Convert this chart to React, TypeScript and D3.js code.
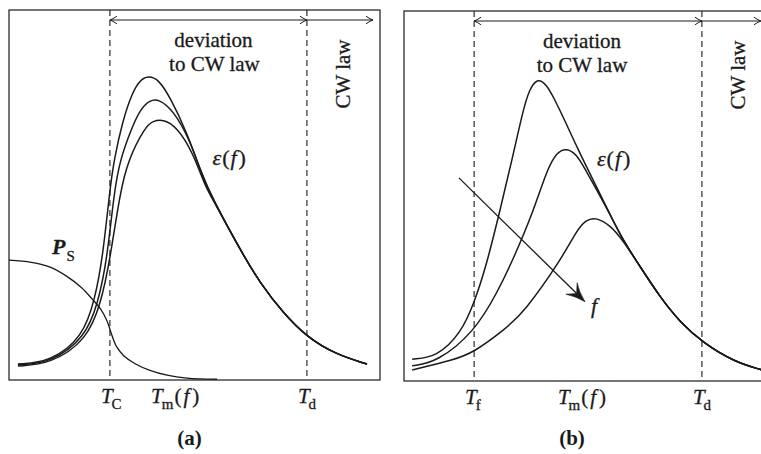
import * as d3 from 'd3'

// temperature axis in arbitrary units (0..100), permittivity in arbitrary units (0..1)
const LEFT_EPS_1 = [[2.4, 0.043], [11.1, 0.049], [19.9, 0.116], [23.2, 0.219], [25.3, 0.335], [27.2, 0.516], [28.3, 0.595], [30.7, 0.703], [33.2, 0.776], [35.3, 0.811], [37.5, 0.822], [40.2, 0.814], [43.4, 0.765], [48.0, 0.668], [51.5, 0.568]]
const LEFT_EPS_2 = [[2.4, 0.041], [11.1, 0.046], [20.5, 0.114], [24.0, 0.208], [26.4, 0.324], [28.3, 0.505], [29.9, 0.595], [33.2, 0.684], [35.3, 0.73], [38.0, 0.757], [40.4, 0.759], [44.2, 0.73], [48.8, 0.649], [52.3, 0.545]]
const LEFT_EPS_3 = [[2.4, 0.038], [11.1, 0.043], [21.0, 0.108], [24.8, 0.208], [27.2, 0.324], [29.9, 0.505], [32.1, 0.595], [36.7, 0.684], [38.8, 0.7], [41.5, 0.705], [45.3, 0.684], [49.6, 0.614], [52.8, 0.525]]
const LEFT_TAIL = [[55.0, 0.487], [62.8, 0.343], [67.7, 0.262], [73.9, 0.181], [80.3, 0.116], [87.9, 0.07], [96.5, 0.043]]
const LEFT_PS = [[0, 0.324], [6, 0.318], [11.1, 0.305], [15.6, 0.28], [19.5, 0.25], [22.5, 0.218], [24.8, 0.19], [26.4, 0.16], [27.6, 0.125], [29.0, 0.09], [31.0, 0.065], [34.0, 0.044], [38.0, 0.026], [42.6, 0.013], [48.0, 0.005], [56.1, 0.002]]

const RIGHT_EPS_1 = [[2.2, 0.059], [8.9, 0.065], [15.4, 0.13], [18.9, 0.211], [22.1, 0.308], [25.9, 0.462], [29.1, 0.597], [32.1, 0.732], [33.7, 0.786], [35.9, 0.819], [38.3, 0.803], [40.4, 0.765], [42.9, 0.714], [46.6, 0.632], [52.0, 0.522]]
const RIGHT_EPS_2 = [[2.2, 0.041], [8.9, 0.051], [18.9, 0.132], [25.1, 0.238], [29.7, 0.335], [35.0, 0.462], [38.5, 0.57], [41.2, 0.619], [43.9, 0.63], [46.6, 0.611], [48.5, 0.578], [52.0, 0.516]]
const RIGHT_EPS_3 = [[2.2, 0.03], [13.5, 0.057], [18.9, 0.078], [27.0, 0.138], [32.4, 0.186], [42.3, 0.327], [46.6, 0.408], [49.1, 0.435], [51.5, 0.443], [55.5, 0.422]]
const RIGHT_TAIL = [[55.5, 0.451], [59.0, 0.381], [63.9, 0.305], [69.0, 0.227], [74.4, 0.159], [80.6, 0.103], [89.2, 0.051], [96.5, 0.03]]

// characteristic temperatures (same units)
const LEFT_MARKS = [{ sub: 'C', t: 27.2 }, { sub: 'd', t: 80.3 }]
const RIGHT_MARKS = [{ sub: 'f', t: 18.9 }, { sub: 'd', t: 80.3 }]
const LEFT_TM = 46.1
const RIGHT_TM = 49.3
const LEFT_ARROW_END = 98.1
const RIGHT_ARROW_END = 96.2
const F_ARROW = [[14.8, 0.549], [48.8, 0.214]]

const INK = '#1a1a1a'
const SERIF = 'Liberation Serif, DejaVu Serif, serif'

type Pt = number[]

function arrowHead(x: number, y: number, dir: number) {
  // small latex-style "to" arrow tip
  const s = dir
  return `M${x - 7 * s},${y - 3.8} Q${x - 2.5 * s},${y - 0.8} ${x},${y} Q${x - 2.5 * s},${y + 0.8} ${x - 7 * s},${y + 3.8}`
}

function Panel({ x0, y0, w, h, curves, tail, ps, marks, tm, arrowEnd, label, fArrow }: any) {
  const x = d3.scaleLinear().domain([0, 100]).range([x0, x0 + w])
  const y = d3.scaleLinear().domain([0, 1]).range([y0 + h, y0])
  const line = d3.line<Pt>().x(d => x(d[0])).y(d => y(d[1])).curve(d3.curveBasis)
  const psLine = d3.line<Pt>().x(d => x(d[0])).y(d => y(d[1])).curve(d3.curveCatmullRom.alpha(0.5))

  const start = marks[0].t
  const td = marks[1].t
  const arrowY = y0 + 10
  const bottom = y0 + h
  const isA = label === '(a)'
  const txt = { fontFamily: SERIF }
  const ink = { fill: INK, stroke: INK, strokeWidth: 0.3 }

  let fa: any = null
  if (fArrow) {
    const [a, b] = fArrow
    const ax = x(a[0]), ay = y(a[1]), bx = x(b[0]), by = y(b[1])
    const ang = Math.atan2(by - ay, bx - ax)
    const ux = Math.cos(ang), uy = Math.sin(ang)
    const nx = -uy, ny = ux
    const L = 19, W = 8
    const cx = bx - L * ux, cy = by - L * uy
    const mx = bx - L * 0.62 * ux, my = by - L * 0.62 * uy
    fa = {
      line: `M${ax},${ay}L${mx},${my}`,
      head: `M${bx},${by} Q${bx - L * 0.55 * ux + nx * 2.5},${by - L * 0.55 * uy + ny * 2.5} ${cx + nx * W},${cy + ny * W} L${mx},${my} L${cx - nx * W},${cy - ny * W} Q${bx - L * 0.55 * ux - nx * 2.5},${by - L * 0.55 * uy - ny * 2.5} ${bx},${by}Z`,
      lx: bx + 6, ly: by + 11
    }
  }

  return (
    <g>
      <rect x={x0} y={y0} width={w} height={h} fill="none" stroke={INK} strokeWidth={1.2} />
      {marks.map((m: any) => (
        <line key={m.sub} x1={x(m.t)} x2={x(m.t)} y1={y0} y2={bottom} stroke={INK} strokeWidth={1.1} strokeDasharray="6,4" />
      ))}
      {/* range arrows */}
      <line x1={x(start)} x2={x(td)} y1={arrowY} y2={arrowY} stroke={INK} strokeWidth={1} />
      <path d={arrowHead(x(start), arrowY, -1)} fill="none" stroke={INK} strokeWidth={1} />
      <path d={arrowHead(x(td), arrowY, 1)} fill="none" stroke={INK} strokeWidth={1} />
      <line x1={x(td)} x2={x(arrowEnd)} y1={arrowY} y2={arrowY} stroke={INK} strokeWidth={1} />
      <path d={arrowHead(x(arrowEnd), arrowY, 1)} fill="none" stroke={INK} strokeWidth={1} />
      <text x={x((start + td) / 2) + (isA ? 5 : -6)} y={y0 + 37} textAnchor="middle" fontSize={21} style={txt} {...ink}>deviation</text>
      <text x={x((start + td) / 2) + (isA ? 6 : -6)} y={y0 + 61} textAnchor="middle" fontSize={21} style={txt} {...ink}>to CW law</text>
      <text transform={`translate(${x(90) + 7},${y0 + 64}) rotate(-90)`} textAnchor="middle" fontSize={21} style={txt} {...ink}>CW law</text>

      {/* curves */}
      {curves.map((c: Pt[], i: number) => (
        <path key={i} d={line(c.concat(tail.filter((p: Pt) => p[0] > c[c.length - 1][0] + 1))) || ''} fill="none" stroke={INK} strokeWidth={1.5} />
      ))}
      {ps && <path d={psLine(ps) || ''} fill="none" stroke={INK} strokeWidth={1.3} />}
      {ps && (
        <text x={x0 + 43} y={y0 + 244} style={txt} {...ink}>
          <tspan fontSize={22} fontWeight="bold" fontStyle="italic">P</tspan>
          <tspan fontSize={15} dy={7} dx={1}>S</tspan>
        </text>
      )}
      <text x={x(isA ? 53.5 : 52) + (isA ? 5 : 0)} y={y0 + 155} style={txt} {...ink} fontSize={22}>
        <tspan fontStyle="italic">ε</tspan>
        <tspan dx={1}>(</tspan>
        <tspan fontStyle="italic" dx={1}>f</tspan>
        <tspan dx={2}>)</tspan>
      </text>
      {fa && (
        <g>
          <path d={fa.line} stroke={INK} strokeWidth={1.3} fill="none" />
          <path d={fa.head} fill={INK} stroke={INK} strokeWidth={0.6} strokeLinejoin="round" />
          <text x={fa.lx} y={fa.ly} fontSize={22} fontStyle="italic" style={txt} {...ink}>f</text>
        </g>
      )}

      {/* axis labels */}
      {marks.map((m: any) => (
        <text key={m.sub} x={x(m.t) - 9} y={bottom + 23} style={txt} {...ink}>
          <tspan fontSize={21} fontStyle="italic">T</tspan>
          <tspan fontSize={15} dy={6} dx={-1}>{m.sub}</tspan>
        </text>
      ))}
      <text x={x(tm) - 29} y={bottom + 23} style={txt} {...ink}>
        <tspan fontSize={21} fontStyle="italic">T</tspan>
        <tspan fontSize={15} dy={6} dx={-1}>m</tspan>
        <tspan fontSize={21} dy={-6} dx={1}>(</tspan>
        <tspan fontSize={21} fontStyle="italic" dx={2}>f</tspan>
        <tspan fontSize={21} dx={3}>)</tspan>
      </text>
      <text x={x((start + td) / 2) + (isA ? -19 : -16)} y={445} textAnchor="middle" fontSize={21} fontWeight="bold" style={txt} fill={INK}>{label}</text>
    </g>
  )
}

export default function App() {
  return (
    <svg width={761} height={454} style={{ position: 'absolute', left: 0, top: 0, background: '#fff' }}>
      <Panel x0={9} y0={10} w={371} h={370} curves={[LEFT_EPS_1, LEFT_EPS_2, LEFT_EPS_3]} tail={LEFT_TAIL} ps={LEFT_PS}
        marks={LEFT_MARKS} tm={LEFT_TM} arrowEnd={LEFT_ARROW_END} label="(a)" />
      <Panel x0={404} y0={11} w={371} h={370} curves={[RIGHT_EPS_1, RIGHT_EPS_2, RIGHT_EPS_3]} tail={RIGHT_TAIL}
        marks={RIGHT_MARKS} tm={RIGHT_TM} arrowEnd={RIGHT_ARROW_END} label="(b)" fArrow={F_ARROW} />
    </svg>
  )
}
